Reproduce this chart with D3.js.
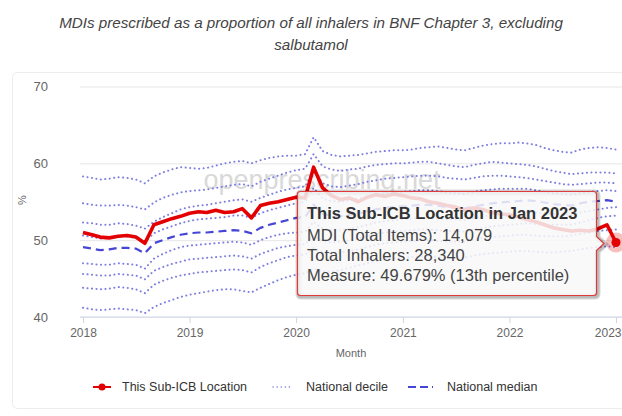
<!DOCTYPE html>
<html>
<head>
<meta charset="utf-8">
<script src="https://cdn.jsdelivr.net/npm/d3@7"></script>
<style>
  html, body { margin: 0; padding: 0; background: #fff; }
  svg { display: block; font-family: "Liberation Sans", Arial, sans-serif; }
</style>
</head>
<body>
<script>
// canvas
let width = 622;
let height = 416;

let margin = { top: 86.5, right: 6, bottom: 99, left: 83 };

// data: monthly values Jan 2018 - Jan 2023
let startMonth = new Date(2018, 0, 1);
let endMonth = new Date(2023, 0, 1);

let thisLocation = [
  51.0, 50.7, 50.4, 50.3, 50.5, 50.6, 50.4, 49.6, 52.0, 52.4, 52.8, 53.1,
  53.5, 53.7, 53.6, 53.9, 53.6, 53.7, 54.1, 52.9, 54.5, 54.8, 55.0, 55.3,
  55.6, 55.5, 59.5, 56.8, 55.8, 55.3, 55.5, 55.0, 55.6, 55.9, 55.7, 56.0,
  55.8, 55.5, 55.4, 55.0, 54.8, 54.5, 54.3, 53.9, 54.2, 54.0, 53.6, 53.4,
  53.3, 53.0, 52.7, 52.4, 52.0, 51.6, 51.4, 51.2, 51.3, 51.2, 51.5, 52.0,
  49.7
];

let p10 = [
  41.2, 41.0, 40.9, 41.0, 41.1, 41.0, 40.9, 40.5, 41.3, 41.8, 42.2, 42.6,
  42.9, 43.1, 43.3, 43.5, 43.6, 43.6, 43.4, 43.2, 43.8, 44.3, 44.8, 45.2,
  45.5, 45.7, 46.3, 45.9, 45.9, 46.1, 46.4, 46.7, 47.0, 47.3, 47.5, 47.6,
  47.7, 47.8, 47.9, 47.9, 47.8, 47.7, 47.7, 47.7, 48.0, 48.2, 48.3, 48.4,
  48.5, 48.6, 48.6, 48.5, 48.4, 48.4, 48.5, 48.6, 48.8, 49.0, 49.1, 49.2,
  49.1
];
let p20 = [
  43.8, 43.7, 43.6, 43.7, 43.9, 43.8, 43.6, 43.1, 44.2, 44.7, 45.1, 45.4,
  45.6, 45.8, 45.9, 46.0, 46.1, 46.2, 46.1, 45.8, 46.5, 47.0, 47.4, 47.8,
  48.0, 48.1, 49.0, 48.4, 48.3, 48.4, 48.6, 48.8, 49.1, 49.4, 49.6, 49.7,
  49.8, 49.9, 50.0, 50.0, 49.9, 49.8, 49.8, 49.8, 50.1, 50.3, 50.4, 50.5,
  50.6, 50.7, 50.7, 50.6, 50.5, 50.5, 50.5, 50.6, 50.8, 51.0, 51.2, 51.3,
  51.4
];
let p30 = [
  45.6, 45.5, 45.4, 45.4, 45.6, 45.5, 45.4, 44.9, 46.0, 46.5, 46.9, 47.2,
  47.5, 47.6, 47.7, 47.8, 47.9, 48.0, 47.9, 47.6, 48.2, 48.6, 49.0, 49.2,
  49.4, 49.5, 50.6, 49.9, 49.7, 49.8, 50.0, 50.2, 50.5, 50.8, 51.0, 51.1,
  51.2, 51.3, 51.4, 51.4, 51.3, 51.2, 51.2, 51.1, 51.4, 51.6, 51.8, 51.9,
  52.0, 52.1, 52.2, 52.1, 52.0, 52.0, 52.0, 52.0, 52.3, 52.6, 52.9, 53.1,
  53.2
];
let p40 = [
  47.0, 46.9, 46.8, 46.8, 47.0, 46.9, 46.8, 46.3, 47.6, 48.2, 48.7, 49.1,
  49.3, 49.4, 49.5, 49.6, 49.7, 49.8, 49.7, 49.4, 50.0, 50.4, 50.7, 50.9,
  51.0, 51.1, 52.4, 51.5, 51.3, 51.3, 51.5, 51.7, 52.0, 52.3, 52.5, 52.6,
  52.7, 52.8, 52.9, 52.9, 52.8, 52.7, 52.7, 52.6, 52.9, 53.1, 53.3, 53.4,
  53.5, 53.6, 53.7, 53.6, 53.5, 53.4, 53.4, 53.3, 53.6, 53.8, 54.0, 54.2,
  54.3
];
let p50 = [
  49.1, 48.9, 48.7, 48.8, 49.0, 49.0, 48.9, 48.3, 49.6, 50.0, 50.4, 50.7,
  50.9, 51.0, 51.0, 51.1, 51.2, 51.3, 51.2, 50.9, 51.6, 52.0, 52.3, 52.6,
  52.9, 53.0, 54.6, 53.4, 53.2, 53.1, 53.3, 53.4, 53.8, 54.0, 54.2, 54.3,
  54.4, 54.5, 54.6, 54.6, 54.5, 54.3, 54.2, 54.1, 54.4, 54.6, 54.8, 54.9,
  55.0, 55.1, 55.2, 55.1, 54.9, 54.7, 54.6, 54.5, 54.8, 55.0, 55.1, 55.2,
  55.0
];
let p60 = [
  50.6, 50.4, 50.2, 50.3, 50.5, 50.5, 50.3, 49.8, 50.9, 51.4, 51.8, 52.2,
  52.5, 52.7, 52.8, 52.9, 53.0, 53.2, 53.2, 52.9, 53.5, 53.9, 54.2, 54.5,
  54.8, 55.0, 56.8, 55.4, 55.1, 55.0, 55.2, 55.4, 55.7, 55.9, 56.1, 56.2,
  56.3, 56.4, 56.5, 56.5, 56.4, 56.2, 56.1, 56.0, 56.3, 56.5, 56.6, 56.7,
  56.7, 56.7, 56.7, 56.5, 56.3, 56.1, 56.0, 55.9, 56.1, 56.3, 56.4, 56.5,
  56.4
];
let p70 = [
  52.3, 52.2, 52.0, 52.0, 52.2, 52.1, 51.9, 51.5, 52.4, 53.0, 53.5, 54.0,
  54.3, 54.5, 54.6, 54.8, 55.0, 55.2, 55.3, 55.0, 55.5, 55.9, 56.3, 56.6,
  56.8, 57.0, 59.0, 57.4, 57.0, 56.9, 57.1, 57.3, 57.6, 57.8, 58.0, 58.1,
  58.2, 58.3, 58.4, 58.4, 58.3, 58.1, 58.0, 57.9, 58.1, 58.3, 58.4, 58.4,
  58.3, 58.2, 58.1, 57.9, 57.7, 57.5, 57.3, 57.2, 57.3, 57.4, 57.5, 57.5,
  57.4
];
let p80 = [
  54.8, 54.6, 54.5, 54.5, 54.6, 54.5, 54.3, 54.0, 54.9, 55.5, 55.9, 56.2,
  56.4, 56.5, 56.6, 56.8, 57.0, 57.2, 57.3, 57.0, 57.6, 58.0, 58.4, 58.8,
  59.1, 59.3, 61.2, 59.6, 59.2, 59.0, 59.2, 59.3, 59.6, 59.8, 59.9, 60.0,
  60.0, 60.1, 60.2, 60.2, 60.0, 59.8, 59.6, 59.5, 59.8, 60.0, 60.2, 60.1,
  60.0, 59.9, 59.8, 59.6, 59.3, 59.0, 58.8, 58.6, 58.7, 58.8, 58.8, 58.8,
  58.7
];
let p90 = [
  58.3, 58.1, 57.9, 58.0, 58.2, 58.1, 57.9, 57.4, 58.3, 58.8, 59.2, 59.5,
  59.4, 59.3, 59.4, 59.7, 60.0, 60.2, 60.3, 60.0, 60.4, 60.7, 60.9, 61.0,
  61.0, 61.2, 63.4, 61.6, 61.1, 60.9, 61.0, 61.1, 61.3, 61.5, 61.6, 61.7,
  61.7, 61.8, 62.0, 62.1, 62.2, 62.0, 61.8, 61.7, 62.0, 62.3, 62.5, 62.6,
  62.6, 62.7, 62.6, 62.4, 62.0, 61.7, 61.5, 61.4, 61.8, 62.0, 62.1, 62.0,
  61.8
];

let deciles = [p10, p20, p30, p40, p60, p70, p80, p90];

let yTicks = [40, 50, 60, 70];
let xTickLabels = ['2018', '2019', '2020', '2021', '2022', '2023'];

let titleLines = [
  'MDIs prescribed as a proportion of all inhalers in BNF Chapter 3, excluding',
  'salbutamol'
];
let legendLabels = ['This Sub-ICB Location', 'National decile', 'National median'];
let tooltipTitle = 'This Sub-ICB Location in Jan 2023';
let tooltipLines = [
  'MDI (Total Items): 14,079',
  'Total Inhalers: 28,340',
  'Measure: 49.679% (13th percentile)'
];

let months = d3.timeMonth.range(startMonth, d3.timeMonth.offset(endMonth, 1));

let x = d3.scaleTime()
  .domain([startMonth, endMonth])
  .range([margin.left, width - margin.right]);

let y = d3.scaleLinear()
  .domain([40, 70])
  .range([height - margin.bottom, margin.top]);

let line = d3.line()
  .x((d, i) => x(months[i]))
  .y(d => y(d));

let svg = d3.select('body')
  .append('svg')
  .attr('width', width)
  .attr('height', height);

// card
svg.append('rect')
  .attr('x', 12.5).attr('y', 72.5)
  .attr('width', 640).attr('height', 336)
  .attr('rx', 5)
  .attr('fill', '#fff')
  .attr('stroke', '#ececec');

// title
svg.append('g')
  .selectAll('text')
  .data(titleLines)
  .enter()
  .append('text')
  .attr('x', 311)
  .attr('y', (d, i) => 28 + i * 22)
  .attr('text-anchor', 'middle')
  .attr('font-size', '15.2px')
  .attr('font-style', 'italic')
  .attr('fill', '#444')
  .text(d => d);

// grid + y labels
let yAxis = g => g
  .attr('transform', `translate(${margin.left - 3},0)`)
  .call(d3.axisLeft(y).tickValues(yTicks).tickSize(-(width - margin.left + 3)).tickPadding(32))
  .call(g => g.select('.domain').remove())
  .call(g => g.selectAll('.tick line').attr('stroke', '#e6e6e6'))
  .call(g => g.selectAll('.tick text')
    .attr('fill', '#666')
    .attr('font-size', '13px')
    .attr('font-family', '"Liberation Sans", Arial, sans-serif'));

svg.append('g').call(yAxis);

// x axis
let xAxis = g => g
  .attr('transform', `translate(0,${height - margin.bottom})`)
  .call(d3.axisBottom(x)
    .ticks(d3.timeYear.every(1))
    .tickFormat((d, i) => xTickLabels[i])
    .tickSize(6)
    .tickSizeOuter(0)
    .tickPadding(5))
  .call(g => g.select('.domain').attr('stroke', '#ccd6eb').attr('d', `M${margin.left - 3},0H${width}`))
  .call(g => g.selectAll('.tick line').attr('stroke', '#ccd6eb'))
  .call(g => g.selectAll('.tick text')
    .attr('fill', '#666')
    .attr('font-size', '12px')
    .attr('font-family', '"Liberation Sans", Arial, sans-serif'))
  // last label sits against the right edge
  .call(g => g.selectAll('.tick:last-of-type text')
    .attr('text-anchor', 'end')
    .attr('dx', width - 1 - x(endMonth)));

svg.append('g').call(xAxis);

// axis titles
svg.append('text')
  .attr('transform', 'translate(26,200) rotate(-90)')
  .attr('text-anchor', 'middle')
  .attr('font-size', '11px')
  .attr('fill', '#666')
  .text('%');

svg.append('text')
  .attr('x', 351)
  .attr('y', 357)
  .attr('text-anchor', 'middle')
  .attr('font-size', '11px')
  .attr('fill', '#666')
  .text('Month');

// watermark
svg.append('text')
  .attr('x', 322)
  .attr('y', 189)
  .attr('text-anchor', 'middle')
  .attr('font-size', '27px')
  .attr('fill', '#d9d9d9')
  .text('openprescribing.net');

// plot clip
svg.append('clipPath')
  .attr('id', 'plot-clip')
  .append('rect')
  .attr('x', margin.left - 3).attr('y', 60)
  .attr('width', width - margin.left + 3).attr('height', height - margin.bottom - 60 + 2);

let plot = svg.append('g').attr('clip-path', 'url(#plot-clip)');

// deciles
plot.selectAll('.decile')
  .data(deciles)
  .enter()
  .append('path')
  .attr('class', 'decile')
  .attr('fill', 'none')
  .attr('stroke', '#7f7fe0')
  .attr('stroke-width', 2)
  .attr('stroke-linecap', 'round')
  .attr('stroke-dasharray', '0.1,4.4')
  .attr('d', line);

// median
plot.append('path')
  .datum(p50)
  .attr('fill', 'none')
  .attr('stroke', '#4545d6')
  .attr('stroke-width', 2.2)
  .attr('stroke-dasharray', '8,5')
  .attr('d', line);

// this location
plot.append('path')
  .datum(thisLocation)
  .attr('fill', 'none')
  .attr('stroke', '#e30000')
  .attr('stroke-width', 3.6)
  .attr('stroke-linejoin', 'round')
  .attr('d', line);

// hovered point
let last = thisLocation.length - 1;
plot.append('circle')
  .attr('cx', x(months[last]))
  .attr('cy', y(thisLocation[last]))
  .attr('r', 10)
  .attr('fill', '#e30000')
  .attr('fill-opacity', 0.25);

plot.append('circle')
  .attr('cx', x(months[last]))
  .attr('cy', y(thisLocation[last]))
  .attr('r', 4.5)
  .attr('fill', '#e30000');

// tooltip
let tip = { x: 297.5, y: 191.5, w: 299, h: 104, r: 3 };
let ax = 604, ay = y(thisLocation[last]) + 1;
let tipPath = `M${tip.x + tip.r},${tip.y}H${tip.x + tip.w - tip.r}Q${tip.x + tip.w},${tip.y} ${tip.x + tip.w},${tip.y + tip.r}` +
  `V${ay - 7}L${ax},${ay}L${tip.x + tip.w},${ay + 7}` +
  `V${tip.y + tip.h - tip.r}Q${tip.x + tip.w},${tip.y + tip.h} ${tip.x + tip.w - tip.r},${tip.y + tip.h}` +
  `H${tip.x + tip.r}Q${tip.x},${tip.y + tip.h} ${tip.x},${tip.y + tip.h - tip.r}V${tip.y + tip.r}Q${tip.x},${tip.y} ${tip.x + tip.r},${tip.y}Z`;

let tooltip = svg.append('g');

[3, 2, 1].forEach(k => {
  tooltip.append('path')
    .attr('d', tipPath)
    .attr('transform', `translate(1,1)`)
    .attr('fill', 'none')
    .attr('stroke', '#000')
    .attr('stroke-opacity', 0.05 * k)
    .attr('stroke-width', k * 2);
});

tooltip.append('path')
  .attr('d', tipPath)
  .attr('fill', 'rgba(248,248,248,0.85)')
  .attr('stroke', '#e03a3a')
  .attr('stroke-width', 1.2);

tooltip.append('text')
  .attr('x', 307)
  .attr('y', 219)
  .attr('font-size', '16.5px')
  .attr('font-weight', 'bold')
  .attr('fill', '#333')
  .text(tooltipTitle);

tooltip.selectAll('.tip-line')
  .data(tooltipLines)
  .enter()
  .append('text')
  .attr('class', 'tip-line')
  .attr('x', 307)
  .attr('y', (d, i) => 241 + i * 20)
  .attr('font-size', '16.5px')
  .attr('fill', '#444')
  .text(d => d);

// legend
let legend = svg.append('g').attr('font-size', '12.5px').attr('fill', '#333');
let ly = 387;

legend.append('line')
  .attr('x1', 93).attr('x2', 111).attr('y1', ly).attr('y2', ly)
  .attr('stroke', '#e30000').attr('stroke-width', 2);
legend.append('circle')
  .attr('cx', 102).attr('cy', ly).attr('r', 3.5)
  .attr('fill', '#e30000');
legend.append('text')
  .attr('x', 122).attr('y', ly + 4)
  .text(legendLabels[0]);

legend.append('line')
  .attr('x1', 273).attr('x2', 291).attr('y1', ly).attr('y2', ly)
  .attr('stroke', '#7f7fe0').attr('stroke-width', 1.5)
  .attr('stroke-linecap', 'round')
  .attr('stroke-dasharray', '0.1,4');
legend.append('text')
  .attr('x', 306).attr('y', ly + 4)
  .text(legendLabels[1]);

legend.append('line')
  .attr('x1', 408).attr('x2', 433).attr('y1', ly).attr('y2', ly)
  .attr('stroke', '#4545d6').attr('stroke-width', 2)
  .attr('stroke-dasharray', '8,4');
legend.append('text')
  .attr('x', 447).attr('y', ly + 4)
  .text(legendLabels[2]);
</script>
</body>
</html>
